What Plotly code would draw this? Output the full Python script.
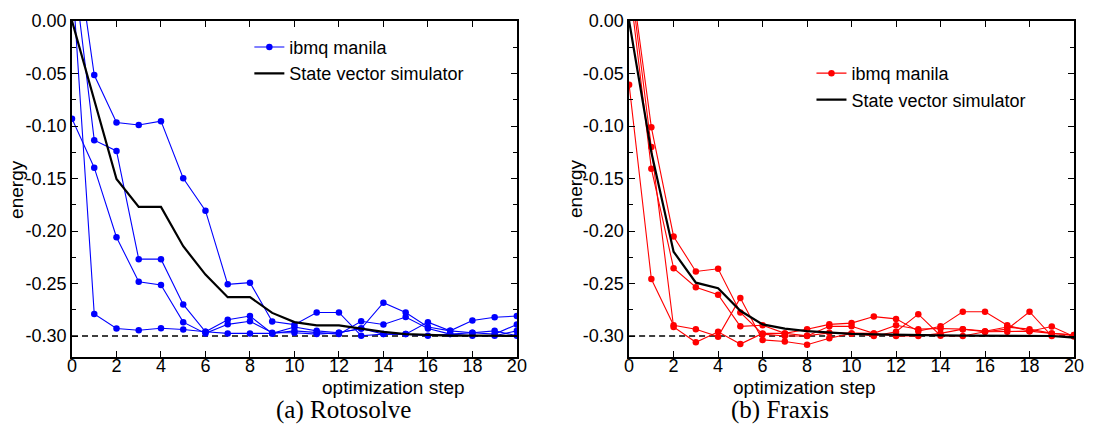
import plotly.graph_objects as go
from plotly.subplots import make_subplots

steps = list(range(21))

# Rotosolve (left): four ibmq manila runs + state vector simulator
roto_run_a = [0.045, -0.279, -0.2929, -0.2945, -0.2926, -0.2938, -0.296, -0.2975, -0.2975, -0.2975, -0.2914,
              -0.2951, -0.2969, -0.2929, -0.2683, -0.2776, -0.2914, -0.2951, -0.2969, -0.2951, -0.2997]
roto_run_b = [0.063, -0.1135, -0.1237, -0.2268, -0.2268, -0.2699, -0.296, -0.2846, -0.281, -0.2975, -0.2951,
              -0.2969, -0.2982, -0.286, -0.289, -0.282, -0.2929, -0.2982, -0.2969, -0.2982, -0.289]
roto_run_c = [0.098, -0.0514, -0.0966, -0.099, -0.0954, -0.1498, -0.1806, -0.2508, -0.2492, -0.2862, -0.2892,
              -0.2776, -0.2776, -0.2997, -0.2982, -0.2982, -0.2868, -0.2951, -0.2852, -0.2822, -0.281]
roto_run_d = [-0.093, -0.1397, -0.2059, -0.2483, -0.2514, -0.2868, -0.2975, -0.2889, -0.2859, -0.2969, -0.2969,
              -0.2982, -0.2969, -0.2929, -0.2982, -0.2982, -0.2997, -0.2982, -0.2997, -0.2997, -0.2951]
roto_sim = [0.0, -0.075, -0.1505, -0.177, -0.177, -0.2145, -0.2415, -0.263, -0.263, -0.278, -0.2868,
            -0.2898, -0.2898, -0.2929, -0.296, -0.2982, -0.299, -0.2997, -0.2997, -0.2999, -0.3]

# Fraxis (right)
frax_run_a = [0.057, -0.1013, -0.2052, -0.2385, -0.236, -0.2776, -0.2982, -0.300, -0.300, -0.2908, -0.2908,
              -0.2975, -0.2898, -0.2935, -0.2929, -0.2935, -0.2954, -0.2915, -0.2935, -0.2975, -0.299]
frax_run_b = [0.037, -0.1406, -0.2354, -0.2535, -0.2606, -0.2908, -0.2898, -0.2975, -0.2935, -0.2889, -0.2877,
              -0.2815, -0.2837, -0.2954, -0.2908, -0.2769, -0.2769, -0.2898, -0.2954, -0.2910, -0.3005]
frax_run_c = [-0.0606, -0.2458, -0.2898, -0.2935, -0.3006, -0.2637, -0.3037, -0.3052, -0.3083, -0.3022, -0.2975,
              -0.300, -0.296, -0.2792, -0.2997, -0.300, -0.296, -0.2935, -0.2769, -0.300, -0.300]
frax_run_d = [0.05, -0.12, -0.2914, -0.306, -0.296, -0.3077, -0.2975, -0.2975, -0.2997, -0.297, -0.2975,
              -0.2975, -0.300, -0.300, -0.2975, -0.2935, -0.296, -0.296, -0.2954, -0.2975, -0.299]
frax_sim = [0.0, -0.125, -0.2197, -0.2492, -0.2545, -0.276, -0.2889, -0.2929, -0.2954, -0.297, -0.298,
            -0.2985, -0.299, -0.2993, -0.2995, -0.2997, -0.2998, -0.2999, -0.3, -0.3, -0.3015]

ground_energy = -0.30
y_ticks = [0.0, -0.05, -0.10, -0.15, -0.20, -0.25, -0.30]
y_tick_text = ["0.00", "-0.05", "-0.10", "-0.15", "-0.20", "-0.25", "-0.30"]
x_ticks = list(range(0, 21, 2))

SANS = "Liberation Sans, Arial, sans-serif"
SERIF = "Liberation Serif, Times New Roman, serif"

fig = make_subplots(rows=1, cols=2, horizontal_spacing=0.112)

panels = [
    (1, [roto_run_a, roto_run_b, roto_run_c, roto_run_d], roto_sim, "#0000ff", "legend"),
    (2, [frax_run_a, frax_run_b, frax_run_c, frax_run_d], frax_sim, "#ff0000", "legend2"),
]

for col, runs, sim, color, leg in panels:
    fig.add_trace(go.Scatter(x=[steps[0], steps[-1]], y=[ground_energy, ground_energy], mode="lines",
                             line=dict(color="black", width=1.5, dash="6px,4px"), showlegend=False,
                             hoverinfo="skip"), row=1, col=col)
    for i, run in enumerate(runs):
        fig.add_trace(go.Scatter(x=steps, y=run, mode="lines+markers", name="ibmq manila",
                                 line=dict(color=color, width=1.1),
                                 marker=dict(color=color, size=6.5),
                                 showlegend=(i == 0), legend=leg), row=1, col=col)
    fig.add_trace(go.Scatter(x=steps, y=sim, mode="lines", name="State vector simulator",
                             line=dict(color="black", width=2.2), legend=leg), row=1, col=col)

axis_common = dict(showline=True, linecolor="black", linewidth=1.6, mirror="ticks", ticks="inside",
                   tickcolor="black", tickwidth=1.2, showgrid=False, zeroline=False,
                   tickfont=dict(family=SANS, size=18, color="black"))

for col in (1, 2):
    fig.update_xaxes(range=[0, 20], tickvals=x_ticks, ticklen=6, ticklabelstandoff=-8,
                     **axis_common, row=1, col=col)
    fig.update_yaxes(range=[-0.32, 0.0], tickvals=y_ticks, ticktext=y_tick_text, ticklen=6,
                     minor=dict(dtick=0.025, tick0=0, ticks="inside", ticklen=4, tickcolor="black",
                                tickwidth=1.2, showgrid=False),
                     **axis_common, row=1, col=col)

fig.update_xaxes(domain=[0.0, 0.444], row=1, col=1)
fig.update_xaxes(domain=[0.556, 1.0], row=1, col=2)

annotations = [
    dict(text="optimization step", x=0.2478, y=-0.09, xref="paper", yref="paper", showarrow=False,
         font=dict(family=SANS, size=19, color="black"), yanchor="middle"),
    dict(text="optimization step", x=0.8048, y=-0.09, xref="paper", yref="paper", showarrow=False,
         font=dict(family=SANS, size=19, color="black"), yanchor="middle"),
    dict(text="energy", x=-0.056, y=0.5, xref="paper", yref="paper", showarrow=False, textangle=-90,
         font=dict(family=SANS, size=19, color="black"), xanchor="center"),
    dict(text="energy", x=0.502, y=0.5, xref="paper", yref="paper", showarrow=False, textangle=-90,
         font=dict(family=SANS, size=19, color="black"), xanchor="center"),
    dict(text="(a) Rotosolve", x=(275 - 72) / 1009, y=-0.158, xref="paper", yref="paper", showarrow=False,
         font=dict(family=SERIF, size=25, color="black"), yanchor="middle"),
    dict(text="(b) Fraxis", x=(836 - 72) / 1009, y=-0.158, xref="paper", yref="paper", showarrow=False,
         font=dict(family=SERIF, size=25, color="black"), yanchor="middle"),
]

legend_style = dict(font=dict(family=SANS, size=18, color="black"), bgcolor="rgba(0,0,0,0)",
                    borderwidth=0, itemwidth=30, tracegroupgap=0, yanchor="top", xanchor="left")

fig.update_layout(
    width=1095, height=441,
    margin=dict(l=72, r=14, t=11, b=84),
    plot_bgcolor="white", paper_bgcolor="white",
    annotations=annotations,
    legend=dict(x=0.177, y=0.977, **legend_style),
    legend2=dict(x=0.738, y=0.899, **legend_style),
)

fig.write_html("out.html")
